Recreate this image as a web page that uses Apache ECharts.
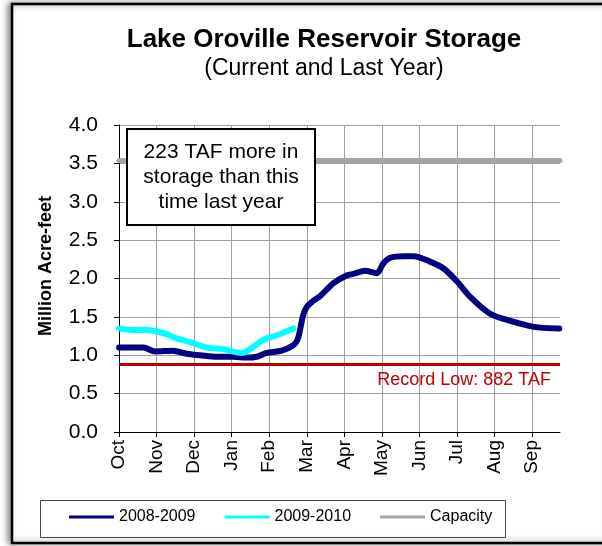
<!DOCTYPE html>
<html>
<head>
<meta charset="utf-8">
<script src="https://cdn.jsdelivr.net/npm/echarts@6/dist/echarts.min.js"></script>
<style>html,body{margin:0;padding:0;background:#fff;}#c{width:602px;height:546px;}</style>
</head>
<body>
<div id="c"></div>
<script>
// Month tick labels (water year Oct -> Sep)
const monthLabels = ['Oct','Nov','Dec','Jan','Feb','Mar','Apr','May','Jun','Jul','Aug','Sep'];
const xMax = 11.74; // months shown on axis

// 2008-2009 storage (million acre-feet), x = months since Oct 1
const months0809 = [0, 0.35, 0.65, 0.96, 1.44, 1.80, 2.16, 2.60, 3.04, 3.40, 3.67, 3.93, 4.33, 4.64, 4.75, 4.82, 4.90, 5.00, 5.15, 5.35, 5.71, 6.06, 6.24, 6.55, 6.86, 7.04, 7.22, 7.57, 7.84, 8.28, 8.64, 9.00, 9.35, 9.88, 10.33, 10.86, 11.21, 11.72];
const values0809 = [1.10, 1.10, 1.10, 1.05, 1.06, 1.02, 1.00, 0.98, 0.98, 0.97, 0.98, 1.03, 1.06, 1.13, 1.20, 1.33, 1.52, 1.63, 1.70, 1.77, 1.94, 2.04, 2.06, 2.10, 2.07, 2.20, 2.27, 2.29, 2.29, 2.22, 2.13, 1.96, 1.76, 1.54, 1.46, 1.39, 1.36, 1.35];

// 2009-2010 storage (current year)
const months0910 = [0, 0.38, 0.74, 1.18, 1.54, 1.89, 2.34, 2.78, 3.27, 3.49, 3.84, 4.20, 4.64];
const values0910 = [1.35, 1.33, 1.33, 1.29, 1.22, 1.17, 1.10, 1.08, 1.03, 1.08, 1.20, 1.26, 1.35];

// Reference levels
const capacity = 3.538;
const recordLow = 0.882;
const capacityMonths = [0, xMax];

// Y tick labels
const yMin = 0, yMax = 4, yInterval = 0.5;

const pair = (xs, ys) => xs.map((x, i) => [x, ys[i]]);

const chart = echarts.init(document.getElementById('c'), null, {renderer: 'canvas'});
const FONT = '"Liberation Sans", Arial, sans-serif';

chart.setOption({
  animation: false,
  backgroundColor: '#fff',
  textStyle: {fontFamily: FONT},
  grid: {left: 119, right: 42, top: 125, bottom: 114, containLabel: false},
  xAxis: {
    type: 'value', min: 0, max: xMax, interval: 1,
    axisLine: {show: true, onZero: false, lineStyle: {color: '#000', width: 1}},
    axisTick: {show: true, length: 5, lineStyle: {color: '#000'}},
    axisLabel: {
      rotate: 90, margin: 8, fontSize: 19, color: '#000', fontFamily: FONT,
      showMaxLabel: false,
      formatter: v => Math.abs(v - Math.round(v)) < 1e-6 && monthLabels[Math.round(v)] ? monthLabels[Math.round(v)] : ''
    },
    splitLine: {show: true, showMaxLine: false, lineStyle: {color: '#a0a0a0', width: 1}}
  },
  yAxis: {
    type: 'value', min: yMin, max: yMax, interval: yInterval,
    axisLine: {show: true, lineStyle: {color: '#000', width: 1}},
    axisTick: {show: true, length: 5, lineStyle: {color: '#000'}},
    axisLabel: {margin: 21, fontSize: 21, color: '#000', fontFamily: FONT, formatter: v => v.toFixed(1)},
    splitLine: {show: true, lineStyle: {color: '#a0a0a0', width: 1}}
  },
  legend: {
    data: ['2008-2009', '2009-2010', 'Capacity'],
    left: 69, top: 509, padding: 0,
    icon: 'rect', itemWidth: 45, itemHeight: 3, itemGap: 29,
    textStyle: {fontSize: 16, color: '#000', fontFamily: FONT}
  },
  series: [
    {
      name: 'Capacity', type: 'line', data: pair(capacityMonths, [capacity, capacity]),
      symbol: 'none', color: '#a6a6a6',
      lineStyle: {color: '#a6a6a6', width: 5, cap: 'round'}, z: 2
    },
    {
      name: '2008-2009', type: 'line', data: pair(months0809, values0809),
      symbol: 'none', smooth: 0.3, color: '#000080',
      lineStyle: {color: '#000080', width: 6, cap: 'round', join: 'round'}, z: 3,
      markLine: {
        silent: true, symbol: 'none', animation: false,
        data: [{yAxis: recordLow}],
        lineStyle: {color: '#c00000', width: 3, type: 'solid'},
        label: {show: true, position: 'insideEndBottom', distance: [9, 7], formatter: 'Record Low: 882 TAF', color: '#c00000', fontSize: 18, fontFamily: FONT}
      }
    },
    {
      name: '2009-2010', type: 'line', data: pair(months0910, values0910),
      symbol: 'none', smooth: 0.3, color: '#00ffff',
      lineStyle: {color: '#00ffff', width: 6, cap: 'round', join: 'round'}, z: 4
    }
  ],
  graphic: [
    {type: 'rect', z: -10, silent: true, shape: {x: 12, y: 4, width: 600, height: 539},
     style: {fill: '#fff', stroke: '#000', lineWidth: 2.5, shadowColor: 'rgba(0,0,0,0.45)', shadowBlur: 6, shadowOffsetX: -3, shadowOffsetY: 0}},
    {type: 'text', z: 10, x: 324, y: 40, style: {text: 'Lake Oroville Reservoir Storage', font: 'bold 26px ' + FONT, fill: '#000', align: 'center', verticalAlign: 'middle'}},
    {type: 'text', z: 10, x: 324, y: 69, style: {text: '(Current and Last Year)', font: '23px ' + FONT, fill: '#000', align: 'center', verticalAlign: 'middle'}},
    {type: 'text', z: 10, x: 46, y: 266, rotation: Math.PI / 2, style: {text: 'Million Acre-feet', font: 'bold 18px ' + FONT, fill: '#000', align: 'center', verticalAlign: 'middle'}},
    {type: 'rect', z: 20, shape: {x: 127, y: 129, width: 188, height: 96}, style: {fill: '#fff', stroke: '#000', lineWidth: 2}},
    {type: 'text', z: 21, x: 221, y: 177, style: {text: '223 TAF more in\nstorage than this\ntime last year', font: '21px ' + FONT, lineHeight: 25, fill: '#000', align: 'center', verticalAlign: 'middle'}},
    {type: 'rect', z: 5, shape: {x: 40.5, y: 500.5, width: 465, height: 37}, style: {fill: 'none', stroke: '#444', lineWidth: 1}}
  ]
});
</script>
</body>
</html>
